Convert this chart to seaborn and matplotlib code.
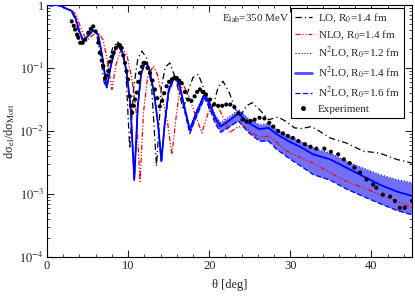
import numpy as np
import matplotlib
matplotlib.use("Agg")
import matplotlib.pyplot as plt
import seaborn as sns
from matplotlib.lines import Line2D
from matplotlib.ticker import MultipleLocator, LogLocator, FixedLocator, FuncFormatter

# angles in degrees, cross sections stored as log10 of the ratio
n2lo_theta = [0, 0.5, 1.2, 1.8, 2.4, 3.0, 3.5, 4.0, 4.5, 5.0, 5.7, 6.3, 6.8, 7.36, 7.9,
              8.4, 8.8, 9.3, 9.8, 10.3, 10.76, 11.2, 11.6, 12.1, 12.6, 13.2, 13.7, 14.1,
              14.5, 15.0, 15.7, 16.3, 16.9, 17.6, 18.45, 19.4, 20.0, 20.7, 21.4, 22.4,
              23.6, 24.8, 26.2, 27.3, 28.3, 29.9, 31.2, 32.8, 34.9, 36.9, 39.0, 41.0,
              43.1, 45.0]
n2lo_14_log = [0, -0.01, 0.0, -0.02, -0.06, -0.09, -0.2, -0.42, -0.57, -0.5, -0.4, -0.47,
               -0.8, -1.31, -0.95, -0.7, -0.65, -0.75, -1.05, -1.6, -2.77, -1.6, -1.1, -0.9,
               -1.0, -1.4, -1.9, -2.48, -1.9, -1.35, -1.13, -1.25, -1.6, -1.98, -1.7, -1.42,
               -1.55, -1.79, -1.93, -1.84, -1.72, -1.87, -1.97, -1.95, -2.05, -2.17, -2.25,
               -2.37, -2.45, -2.58, -2.72, -2.85, -2.96, -3.03]
n2lo_12_log = [0, -0.01, 0.0, -0.02, -0.06, -0.09, -0.2, -0.42, -0.57, -0.5, -0.4, -0.47,
               -0.8, -1.31, -0.95, -0.7, -0.65, -0.75, -1.05, -1.6, -2.8, -1.6, -1.1, -0.9,
               -1.0, -1.4, -1.9, -2.45, -1.88, -1.33, -1.11, -1.23, -1.57, -1.95, -1.67,
               -1.39, -1.51, -1.74, -1.87, -1.78, -1.66, -1.80, -1.90, -1.88, -1.97, -2.08,
               -2.16, -2.27, -2.35, -2.48, -2.59, -2.69, -2.77, -2.82]
n2lo_16_log = [0, -0.01, 0.0, -0.02, -0.06, -0.09, -0.2, -0.42, -0.57, -0.5, -0.4, -0.47,
               -0.8, -1.31, -0.95, -0.7, -0.65, -0.75, -1.05, -1.6, -2.75, -1.6, -1.1, -0.9,
               -1.0, -1.4, -1.9, -2.5, -1.92, -1.38, -1.16, -1.29, -1.65, -2.04, -1.76,
               -1.48, -1.62, -1.87, -2.02, -1.94, -1.84, -2.02, -2.16, -2.16, -2.29, -2.44,
               -2.55, -2.69, -2.78, -2.92, -3.04, -3.15, -3.26, -3.33]

nlo_theta = [0, 0.5, 1.2, 1.8, 2.4, 3.0, 3.6, 4.2, 4.9, 5.6, 6.33, 6.9, 7.4, 8.0, 8.5,
             9.0, 9.4, 9.9, 10.5, 11.0, 11.47, 11.9, 12.4, 13.1, 13.6, 14.2, 14.9, 15.4,
             15.9, 16.3, 16.8, 17.5, 18.3, 19.1, 19.9, 20.8, 21.6, 22.5, 23.3, 24.2, 25.2,
             26.2, 27.5, 29.3, 30.5, 32.8, 34.9, 36.9, 39.0, 41.0, 43.0, 45.0]
nlo_log = [0, -0.01, 0.0, -0.02, -0.05, -0.08, -0.15, -0.38, -0.57, -0.48, -0.44, -0.55,
           -0.85, -1.34, -0.95, -0.75, -0.71, -0.82, -1.2, -1.7, -2.8, -1.7, -1.15, -0.97,
           -1.1, -1.45, -1.9, -2.37, -1.8, -1.4, -1.26, -1.45, -1.75, -2.03, -1.7, -1.55,
           -1.75, -2.03, -1.95, -1.92, -2.02, -2.1, -2.08, -2.3, -2.38, -2.51, -2.66, -2.8,
           -2.9, -3.01, -3.11, -3.22]

lo_theta = [0, 0.5, 1.2, 1.8, 2.4, 3.0, 3.4, 3.9, 4.4, 4.9, 5.5, 6.1, 6.6, 7.1, 7.6, 8.1,
            8.7, 9.2, 9.7, 10.2, 10.7, 11.2, 11.7, 12.3, 12.9, 13.5, 14.1, 14.6, 15.15,
            15.8, 16.4, 16.8, 17.3, 18.0, 18.65, 19.4, 20.1, 20.6, 21.1, 21.7, 22.5, 23.2,
            23.8, 24.6, 25.3, 26.2, 27.3, 28.5, 29.5, 30.5, 31.4, 32.6, 33.8, 34.9, 36.9,
            39.0, 41.0, 43.1, 45.0]
lo_log = [0, -0.01, 0.0, -0.02, -0.06, -0.1, -0.2, -0.42, -0.57, -0.48, -0.38, -0.45,
          -0.8, -1.28, -0.9, -0.68, -0.58, -0.68, -1.0, -2.28, -1.3, -0.85, -0.73, -0.85,
          -1.3, -2.56, -1.3, -0.98, -0.92, -1.15, -1.45, -1.66, -1.4, -1.15, -1.1, -1.35,
          -1.7, -1.55, -1.3, -1.21, -1.4, -1.65, -1.77, -1.6, -1.55, -1.66, -1.82, -1.78,
          -1.85, -1.95, -1.96, -1.93, -2.02, -2.11, -2.19, -2.32, -2.35, -2.45, -2.51]

exp_theta = [3.05, 3.3, 3.46, 3.7, 3.87, 4.1, 4.4, 4.7, 5.1, 5.4, 5.7, 6.0, 6.33, 6.5,
             6.75, 6.95, 7.15, 7.35, 7.56, 7.8, 8.0, 8.2, 8.5, 8.8, 9.0, 9.2, 9.4, 9.62,
             9.8, 10.0, 10.2, 10.35, 10.5, 10.7, 10.85, 11.06, 11.25, 11.47, 11.7, 11.9,
             12.08, 12.4, 12.7, 13.0, 13.3, 13.6, 13.9, 14.2, 14.45, 14.75, 15.05, 15.4,
             15.7, 16.0, 16.3, 16.6, 17.0, 17.4, 17.8, 18.2, 18.5, 18.85, 19.2, 19.6, 20.1,
             20.6, 21.1, 21.6, 22.1, 22.6, 23.1, 23.6, 24.1, 24.6, 25.1, 25.6, 26.2, 26.8,
             27.4, 27.9, 28.5, 29.1, 29.7, 30.3, 31.0, 31.8, 32.5, 33.2, 34.2, 35.0, 35.9,
             36.6, 37.3, 37.9, 38.6, 39.4, 40.2, 40.6, 41.4, 42.3, 42.9, 43.5, 44.1, 45.0]
exp_log = [-0.26, -0.33, -0.39, -0.47, -0.52, -0.6, -0.6, -0.55, -0.44, -0.38, -0.34,
           -0.42, -0.6, -0.76, -0.88, -0.97, -1.16, -1.12, -1.05, -0.9, -0.82, -0.76, -0.68,
           -0.63, -0.64, -0.68, -0.8, -0.92, -1.05, -1.18, -1.45, -1.6, -1.71, -1.6, -1.5,
           -1.39, -1.22, -1.08, -0.98, -0.92, -0.92, -1.0, -1.08, -1.2, -1.34, -1.48, -1.61,
           -1.52, -1.4, -1.29, -1.22, -1.18, -1.16, -1.16, -1.2, -1.24, -1.38, -1.5, -1.52,
           -1.45, -1.38, -1.34, -1.38, -1.42, -1.5, -1.58, -1.6, -1.6, -1.58, -1.58, -1.62,
           -1.72, -1.82, -1.85, -1.84, -1.82, -1.79, -1.8, -1.87, -1.93, -2.0, -2.04, -2.08,
           -2.11, -2.16, -2.21, -2.25, -2.28, -2.28, -2.33, -2.37, -2.45, -2.51, -2.58,
           -2.66, -2.77, -2.85, -2.9, -3.01, -3.04, -3.11, -3.22, -3.22, -3.11]

legend_labels = ["LO, R$_0$=1.4 fm", "NLO, R$_0$=1.4 fm", "N$^2$LO, R$_0$=1.2 fm",
                 "N$^2$LO, R$_0$=1.4 fm", "N$^2$LO, R$_0$=1.6 fm", "Experiment"]

sns.set_style("ticks")
plt.rcParams['font.family'] = ['Liberation Serif', 'DejaVu Serif']
plt.rcParams['mathtext.fontset'] = 'stix'

fig = plt.figure(figsize=(4.15, 2.97), dpi=100)
ax = fig.add_axes([47 / 415, 40 / 297, 365 / 415, 252 / 297])

def lin(v):
    return 10 ** np.array(v, dtype=float)

band_color = '#7070ff'
ax.fill_between(n2lo_theta, lin(n2lo_16_log), lin(n2lo_12_log), color=band_color, lw=0, zorder=1)

ls_lo = (0, (5, 2.5, 1, 2.5))
ls_nlo = (0, (4, 1.5, 1, 1.5, 1, 1.5))
sns.lineplot(x=lo_theta, y=lin(lo_log), ax=ax, color='black', lw=0.9, linestyle=ls_lo, zorder=3)
sns.lineplot(x=nlo_theta, y=lin(nlo_log), ax=ax, color='#ff0000', lw=0.9, linestyle=ls_nlo, zorder=3)
sns.lineplot(x=n2lo_theta, y=lin(n2lo_12_log), ax=ax, color='#0000ff', lw=0.8, linestyle=':', zorder=4)
sns.lineplot(x=n2lo_theta, y=lin(n2lo_16_log), ax=ax, color='#0000ff', lw=0.9, linestyle=(0, (4, 2)), zorder=4)
sns.lineplot(x=n2lo_theta, y=lin(n2lo_14_log), ax=ax, color='#0000ff', lw=1.3, zorder=5)
sns.scatterplot(x=exp_theta, y=lin(exp_log), ax=ax, color='black', s=9, edgecolor='none', zorder=6)

ax.set_yscale('log')
ax.set_xlim(0, 45)
ax.set_ylim(1e-4, 1)

ax.xaxis.set_major_locator(MultipleLocator(10))
ax.xaxis.set_minor_locator(MultipleLocator(2))
ax.yaxis.set_major_locator(FixedLocator([1e-4, 1e-3, 1e-2, 1e-1, 1]))
ax.yaxis.set_minor_locator(LogLocator(base=10, subs=np.arange(2, 10)))

def yfmt(v, pos):
    if v >= 1:
        return "1"
    return r"$10^{%d}$" % int(round(np.log10(v)))

ax.yaxis.set_major_formatter(FuncFormatter(yfmt))
ax.tick_params(which='both', direction='in', top=True, right=True, labelsize=9, pad=2)
ax.tick_params(which='major', length=5, width=0.8)
ax.tick_params(which='minor', length=2.5, width=0.6)
for sp in ax.spines.values():
    sp.set_linewidth(0.8)
    sp.set_color('black')

ax.set_xlabel("θ [deg]", fontsize=9, labelpad=5)
ax.set_ylabel("dσ$_{\\rm el}$/dσ$_{\\rm Mott}$", fontsize=9, labelpad=2)

ax.text(0.665, 0.945, r"E$_{\rm lab}$=350 MeV", transform=ax.transAxes, fontsize=8,
        ha='right', va='center')

handles = [
    Line2D([], [], color='black', lw=0.9, linestyle=ls_lo),
    Line2D([], [], color='#ff0000', lw=0.9, linestyle=ls_nlo),
    Line2D([], [], color='#0000ff', lw=0.8, linestyle=':'),
    Line2D([], [], color='#5050ff', lw=2.0),
    Line2D([], [], color='#0000ff', lw=0.9, linestyle=(0, (4, 2))),
    Line2D([], [], color='black', marker='o', markersize=2.5, lw=0),
]
leg = ax.legend(handles, legend_labels, loc='upper right', fontsize=8, frameon=True,
                fancybox=False, edgecolor='black', framealpha=1, borderpad=0.35,
                labelspacing=0.3, handlelength=1.6, handletextpad=0.5,
                borderaxespad=0, bbox_to_anchor=(0.978, 0.99))
leg.get_frame().set_linewidth(0.8)

fig.savefig("out.png", dpi=100)
plt.close(fig)
